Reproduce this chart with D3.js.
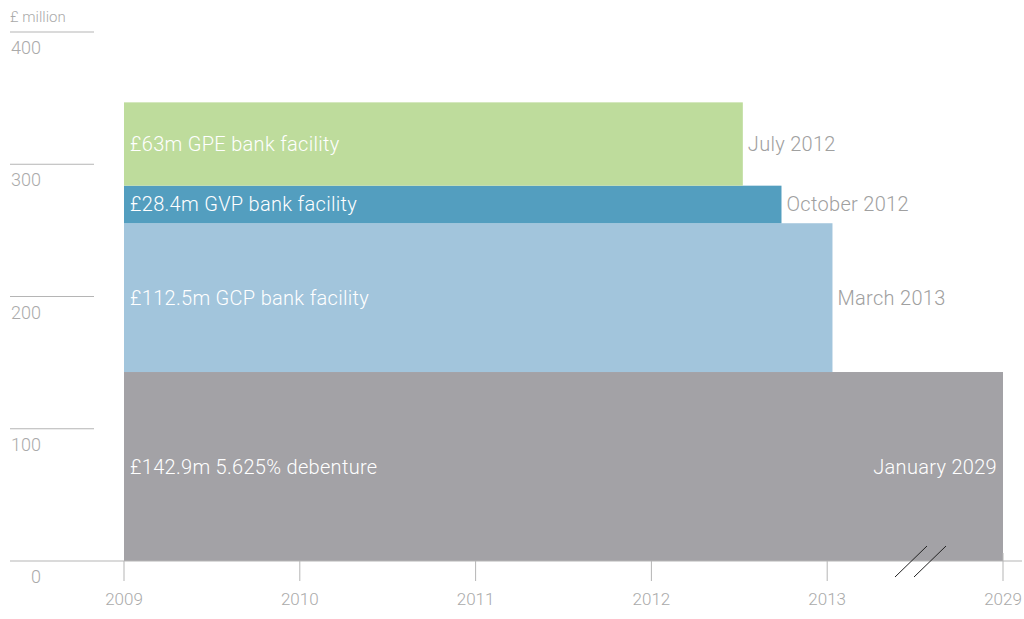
<!DOCTYPE html>
<html>
<head>
<meta charset="utf-8">
<script src="https://cdn.jsdelivr.net/npm/d3@7"></script>
<style>
  body { margin: 0; background: #fff; }
  svg text { font-family: Roboto, "Liberation Sans", sans-serif; font-weight: 300; }
</style>
</head>
<body>
<svg id="chart" width="1024" height="619"></svg>
<script>
// facilities, stacked bottom to top
var names = ["£142.9m 5.625% debenture", "£112.5m GCP bank facility", "£28.4m GVP bank facility", "£63m GPE bank facility"];
var amounts = [142.9, 112.5, 28.4, 63];
var maturities = [2029, 2013.03, 2012.74, 2012.52];
var maturityLabels = ["January 2029", "March 2013", "October 2012", "July 2012"];
var colors = ["#a3a2a6", "#a2c5dc", "#539ebf", "#bedc9c"];

var yTicks = [0, 100, 200, 300, 400];
var xTicks = [2009, 2010, 2011, 2012, 2013, 2029];

var svg = d3.select("#chart");

// x is broken: everything from 2014 to 2029 collapses onto the last tick
var x = d3.scaleLinear().domain([2009, 2014, 2029]).range([124, 1003, 1003]);
var y = d3.scaleLinear().domain([0, 400]).range([561, 32]);

// stack the amounts
var bars = [];
var base = 0;
amounts.forEach(function (a, i) {
    bars.push({ name: names[i], y0: base, y1: base + a, end: maturities[i], label: maturityLabels[i], color: colors[i] });
    base += a;
});

svg.selectAll("rect.bar")
    .data(bars)
    .enter().append("rect")
    .attr("class", "bar")
    .attr("x", x(2009))
    .attr("y", d => y(d.y1))
    .attr("width", d => x(d.end) - x(2009))
    .attr("height", d => y(d.y0) - y(d.y1))
    .attr("fill", d => d.color);

// names inside the bars
svg.selectAll("text.name")
    .data(bars)
    .enter().append("text")
    .attr("class", "name")
    .attr("x", x(2009) + 6)
    .attr("y", d => (y(d.y0) + y(d.y1)) / 2)
    .attr("dy", "0.35em")
    .attr("font-size", 20)
    .attr("letter-spacing", 0.3)
    .attr("fill", "#fff")
    .text(d => d.name);

// maturity labels: outside, except the long one which sits inside
svg.selectAll("text.mat")
    .data(bars)
    .enter().append("text")
    .attr("class", "mat")
    .attr("x", d => d.end === 2029 ? x(d.end) - 6 : x(d.end) + 5)
    .attr("y", d => (y(d.y0) + y(d.y1)) / 2)
    .attr("dy", "0.35em")
    .attr("font-size", 20)
    .attr("letter-spacing", 0.3)
    .attr("text-anchor", d => d.end === 2029 ? "end" : "start")
    .attr("fill", d => d.end === 2029 ? "#fff" : "#a0a0a0")
    .text(d => d.label);

// y axis: short rules with labels underneath
var yg = svg.append("g");
yTicks.forEach(function (t) {
    yg.append("line")
        .attr("x1", 10).attr("x2", t === 0 ? 1022 : 94)
        .attr("y1", y(t)).attr("y2", y(t))
        .attr("stroke", "#b5b5b5").attr("stroke-width", 1);
    yg.append("text")
        .attr("x", 41)
        .attr("y", y(t) + 22)
        .attr("text-anchor", "end")
        .attr("font-size", 18)
        .attr("fill", "#aaa")
        .text(t);
});
svg.append("text")
    .attr("x", 10).attr("y", 22)
    .attr("font-size", 15)
    .attr("fill", "#aaa")
    .text("£ million");

// x axis ticks
var xg = svg.append("g");
xTicks.forEach(function (t) {
    xg.append("line")
        .attr("x1", x(t)).attr("x2", x(t))
        .attr("y1", t === 2029 ? y(0) - 8 : y(0)).attr("y2", y(0) + 20)
        .attr("stroke", "#b5b5b5").attr("stroke-width", 1);
    xg.append("text")
        .attr("x", x(t))
        .attr("y", 605)
        .attr("text-anchor", "middle")
        .attr("font-size", 17)
        .attr("fill", "#aaa")
        .text(t);
});

// axis break marks
[0, 19].forEach(function (off) {
    svg.append("line")
        .attr("x1", 895 + off).attr("y1", 577)
        .attr("x2", 927 + off).attr("y2", 546)
        .attr("stroke", "#222").attr("stroke-width", 1);
});
</script>
</body>
</html>
